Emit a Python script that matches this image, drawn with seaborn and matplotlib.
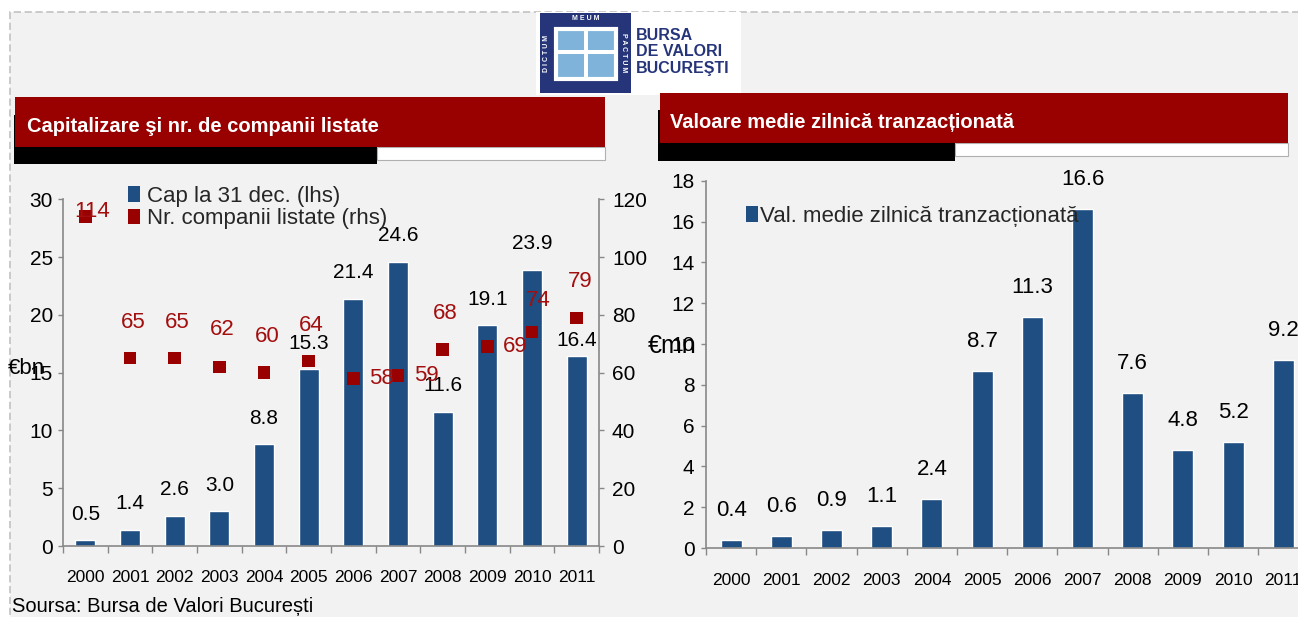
import numpy as np
import pandas as pd
import matplotlib
matplotlib.use("Agg")
import matplotlib.pyplot as plt
import seaborn as sns
from matplotlib.patches import Rectangle, Patch

# ---------------- data ----------------
years = ["2000", "2001", "2002", "2003", "2004", "2005",
         "2006", "2007", "2008", "2009", "2010", "2011"]
market_cap = [0.5, 1.4, 2.6, 3.0, 8.8, 15.3, 21.4, 24.6, 11.6, 19.1, 23.9, 16.4]
listed_companies = [114, 65, 65, 62, 60, 64, 58, 59, 68, 69, 74, 79]
daily_value = [0.4, 0.6, 0.9, 1.1, 2.4, 8.7, 11.3, 16.6, 7.6, 4.8, 5.2, 9.2]
cap_ticks = [0, 5, 10, 15, 20, 25, 30]
companies_ticks = [0, 20, 40, 60, 80, 100, 120]
value_ticks = [0, 2, 4, 6, 8, 10, 12, 14, 16, 18]

title_left = "Capitalizare şi nr. de companii listate"
title_right = "Valoare medie zilnică tranzacționată"
legend_cap = "Cap la 31 dec. (lhs)"
legend_companies = "Nr. companii listate (rhs)"
legend_value = "Val. medie zilnică tranzacționată"
unit_left = "€bn"
unit_right = "€mn"
source = "Soursa: Bursa de Valori București"

# label placement (pixels) -- style only
cap_label_lift = [26] * 11 + [16]
company_label_offset = [(7, 5), (3, 36), (3, 36), (3, 37), (3, 36), (3, 36),
                        (28, 0), (28, 0), (3, 36), (28, 0), (6, 32), (4, 36)]

BLUE = "#1f4e82"
RED = "#990000"
RED_TXT = "#a30e0e"
GRAY = "#888888"
BG = "#f2f2f2"

sns.set_theme(style="white")
plt.rcParams["font.family"] = ["Liberation Sans", "DejaVu Sans"]

W, H = 1298, 617
PX = 72 / 100.0  # points per pixel at dpi 100
fig = plt.figure(figsize=(W / 100, H / 100), dpi=100)
fig.patch.set_facecolor("white")


def box(x0, y0, x1, y1, **kw):
    r = Rectangle((x0 / W, 1 - y1 / H), (x1 - x0) / W, (y1 - y0) / H,
                  transform=fig.transFigure, **kw)
    fig.add_artist(r)
    return r


def ftext(x, y, s, **kw):
    return fig.text(x / W, 1 - y / H, s, **kw)


# background with dashed border
box(10, 12, W + 5, H + 5, facecolor=BG, edgecolor="#c6c6c6",
    linestyle=(0, (4, 2)), lw=1.3, zorder=-5)

# ---------------- logo ----------------
box(536, 12, 741, 95, facecolor="white", edgecolor="none", zorder=1)
NAVY = "#26357a"
box(540, 13, 631, 93, facecolor=NAVY, edgecolor="none", zorder=2)
box(556, 29, 616, 79, facecolor="#7fb3da", edgecolor="white", lw=3, zorder=3)
box(584, 29, 588, 79, facecolor="white", edgecolor="none", zorder=4)
box(556, 50, 616, 54, facecolor="white", edgecolor="none", zorder=4)
ftext(585.5, 19, "M E U M", color="white", fontsize=5, ha="center",
      va="center", fontweight="bold", zorder=5)
ftext(547, 53, "D I C T U M", color="white", fontsize=5, ha="center",
      va="center", rotation=90, fontweight="bold", zorder=5)
ftext(624, 53, "P A C T U M", color="white", fontsize=5, ha="center",
      va="center", rotation=-90, fontweight="bold", zorder=5)
for yy, t in [(35, "BURSA"), (52, "DE VALORI"), (69, "BUCUREŞTI")]:
    ftext(636, yy, t, color=NAVY, fontsize=11.5, fontweight="bold",
          ha="left", va="center", zorder=5)

# ---------------- headers ----------------
box(14, 115, 377, 164, facecolor="black", edgecolor="none", zorder=1)
box(377, 147, 605, 160, facecolor="white", edgecolor="#b0b0b0", lw=0.8, zorder=1)
box(15, 97, 605, 147, facecolor=RED, edgecolor="none", zorder=2)
ftext(27, 127, title_left, color="white", fontsize=14.5, fontweight="bold",
      ha="left", va="center", zorder=3)

box(658, 110, 955, 161, facecolor="black", edgecolor="none", zorder=1)
box(955, 143, 1288, 156, facecolor="white", edgecolor="#b0b0b0", lw=0.8, zorder=1)
box(660, 93, 1288, 143, facecolor=RED, edgecolor="none", zorder=2)
ftext(670, 123, title_right, color="white", fontsize=14.5, fontweight="bold",
      ha="left", va="center", zorder=3)

# ---------------- left chart ----------------
ax1 = fig.add_axes([63 / W, 1 - 546 / H, (599 - 63) / W, (546 - 199.3) / H])
ax1.set_facecolor("none")
df_left = pd.DataFrame({"Year": years, "Cap": market_cap})
sns.barplot(data=df_left, x="Year", y="Cap", color=BLUE, saturation=1,
            width=0.45, ax=ax1, zorder=2)
ax1.set_xlim(-0.5, len(years) - 0.5)
ax1.set_ylim(cap_ticks[0], cap_ticks[-1])
ax1.set_yticks(cap_ticks)
ax1.set_xlabel("")
ax1.set_ylabel("")

ax2 = ax1.twinx()
sns.scatterplot(x=np.arange(len(years)), y=listed_companies, marker="s", s=80,
                color=RED, edgecolor="none", linewidth=0, ax=ax2, zorder=4)
ax2.set_ylim(companies_ticks[0], companies_ticks[-1])
ax2.set_yticks(companies_ticks)
ax2.set_ylabel("")

for a in (ax1, ax2):
    for sp in a.spines.values():
        sp.set_visible(False)
        sp.set_color(GRAY)
        sp.set_linewidth(1.2)
ax1.spines["left"].set_visible(True)
ax1.spines["bottom"].set_visible(True)
ax2.spines["right"].set_visible(True)

ax1.set_xticks(np.arange(-0.5, len(years), 1.0), minor=True)
ax1.tick_params(axis="x", which="major", length=0, pad=17.5, labelsize=12.5,
                labelcolor="black")
ax1.tick_params(axis="x", which="minor", length=5, width=1, color=GRAY,
                direction="out", bottom=True)
ax1.tick_params(axis="y", length=3.5, width=1, color=GRAY, direction="out",
                pad=3.8, labelsize=15, labelcolor="black", left=True)
ax2.tick_params(axis="y", length=3.5, width=1, color=GRAY, direction="out",
                pad=5.8, labelsize=15, labelcolor="black", right=True)

for i, v in enumerate(market_cap):
    ax1.annotate(f"{v:.1f}", xy=(i, v), xytext=(0, cap_label_lift[i] * PX),
                 textcoords="offset points", ha="center", va="center",
                 fontsize=15, color="black", zorder=5)
for i, v in enumerate(listed_companies):
    dx, dy = company_label_offset[i]
    ax2.annotate(f"{v}", xy=(i, v), xytext=(dx * PX, dy * PX),
                 textcoords="offset points", ha="center", va="center",
                 fontsize=16, color=RED_TXT, zorder=5)

ax2.legend(handles=[Patch(facecolor=BLUE, edgecolor="none", label=legend_cap),
                    Patch(facecolor=RED, edgecolor="none", label=legend_companies)],
           loc="upper left", bbox_to_anchor=(128 / W, 1 - 186 / H),
           bbox_transform=fig.transFigure, frameon=False, fontsize=16,
           handlelength=0.55, handleheight=0.7, handletextpad=0.3,
           labelspacing=0.05, borderpad=0, borderaxespad=0)

ftext(26, 368, unit_left, fontsize=16, ha="center", va="center", color="black")

# ---------------- right chart ----------------
cat_w = 50.2
ax3 = fig.add_axes([706 / W, 1 - 548 / H, cat_w * len(years) / W, (548 - 180.8) / H])
ax3.set_facecolor("none")
df_right = pd.DataFrame({"Year": years, "Value": daily_value})
sns.barplot(data=df_right, x="Year", y="Value", color=BLUE, saturation=1,
            width=0.42, ax=ax3, zorder=2)
ax3.set_xlim(-0.5, len(years) - 0.5)
ax3.set_ylim(value_ticks[0], value_ticks[-1])
ax3.set_yticks(value_ticks)
ax3.set_xlabel("")
ax3.set_ylabel("")
for sp in ax3.spines.values():
    sp.set_color(GRAY)
    sp.set_linewidth(1.2)
ax3.spines["top"].set_visible(False)
ax3.spines["right"].set_visible(False)
ax3.set_xticks(np.arange(-0.5, len(years), 1.0), minor=True)
ax3.tick_params(axis="x", which="major", length=0, pad=18, labelsize=12.5,
                labelcolor="black")
ax3.tick_params(axis="x", which="minor", length=5, width=1, color=GRAY,
                direction="out", bottom=True)
ax3.tick_params(axis="y", length=3.5, width=1, color=GRAY, direction="out",
                pad=4.8, labelsize=15, labelcolor="black", left=True)

for i, v in enumerate(daily_value):
    ax3.annotate(f"{v:.1f}", xy=(i, v), xytext=(0, 29.5 * PX),
                 textcoords="offset points", ha="center", va="center",
                 fontsize=16, color="black", zorder=5, annotation_clip=False)

ax3.legend(handles=[Patch(facecolor=BLUE, edgecolor="none", label=legend_value)],
           loc="upper left", bbox_to_anchor=(746 / W, 1 - 206 / H),
           bbox_transform=fig.transFigure, frameon=False, fontsize=16,
           handlelength=0.55, handleheight=0.7, handletextpad=0.1,
           borderpad=0, borderaxespad=0)

ftext(672, 346, unit_right, fontsize=18, ha="center", va="center", color="black")

# ---------------- source ----------------
ftext(12, 607, source, fontsize=14.5, ha="left", va="center", color="black")

fig.savefig("out.png", dpi=100, facecolor=fig.get_facecolor())
